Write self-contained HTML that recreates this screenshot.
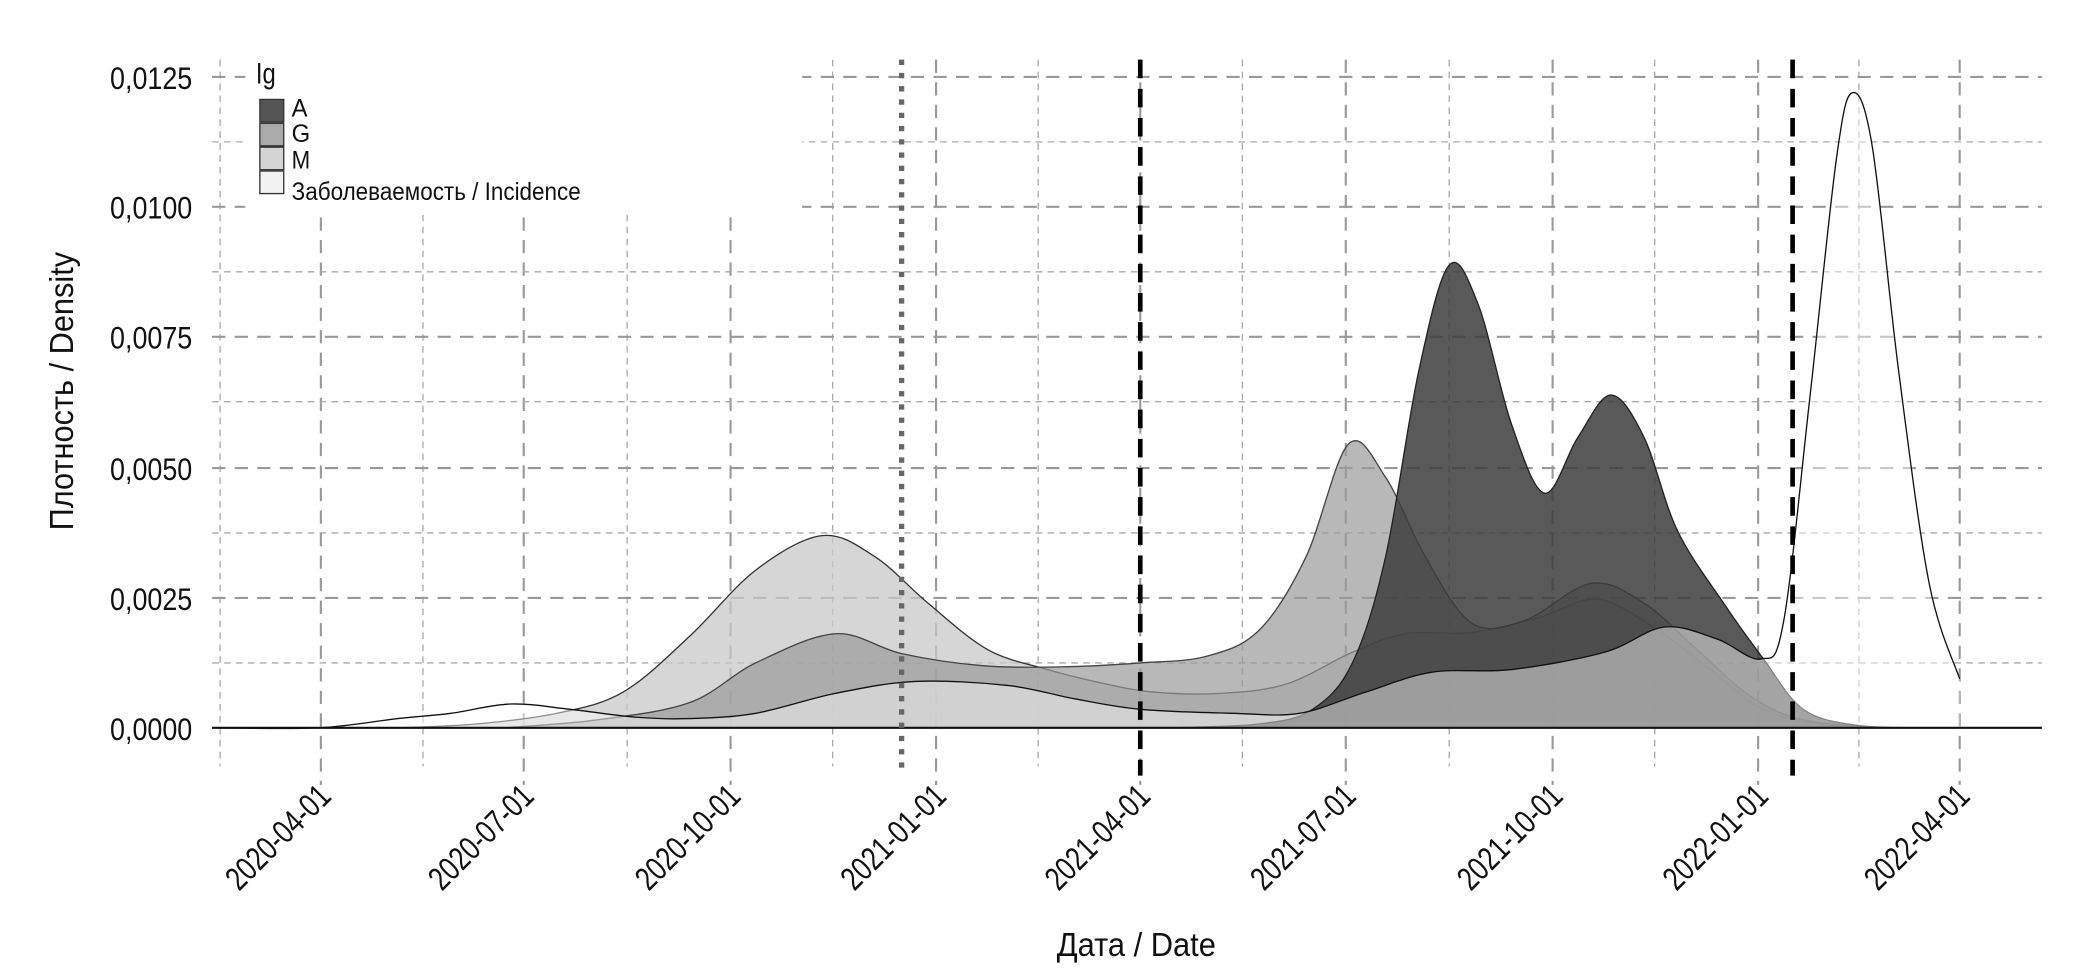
<!DOCTYPE html>
<html><head><meta charset="utf-8"><style>
html,body{margin:0;padding:0;background:#fff;}
svg{display:block;}
text{font-family:"Liberation Sans",sans-serif;fill:#111;}
</style></head><body>
<svg id="s" width="2079" height="975" viewBox="0 0 1568 735.4" preserveAspectRatio="none" xmlns="http://www.w3.org/2000/svg">
<g id="grid"></g>
<rect x="185" y="38" width="420" height="122" fill="#fff"/>
<g id="areas"></g>
<line x1="160" y1="549" x2="1540" y2="549" stroke="#111" stroke-width="1.6"/>
<line x1="680" y1="45" x2="680" y2="585" stroke="#666" stroke-width="4" stroke-dasharray="4,6"/>
<line x1="860" y1="45" x2="860" y2="585" stroke="#000" stroke-width="3.5" stroke-dasharray="14,8"/>
<line x1="1352" y1="45" x2="1352" y2="585" stroke="#000" stroke-width="3.5" stroke-dasharray="14,8"/>
<g font-size="24" text-anchor="end">
<text x="145" y="67" textLength="62" lengthAdjust="spacingAndGlyphs">0,0125</text>
<text x="145" y="165" textLength="62" lengthAdjust="spacingAndGlyphs">0,0100</text>
<text x="145" y="263" textLength="62" lengthAdjust="spacingAndGlyphs">0,0075</text>
<text x="145" y="362" textLength="62" lengthAdjust="spacingAndGlyphs">0,0050</text>
<text x="145" y="460" textLength="62" lengthAdjust="spacingAndGlyphs">0,0025</text>
<text x="145" y="558" textLength="62" lengthAdjust="spacingAndGlyphs">0,0000</text>
</g>
<g id="xl" font-size="25" text-anchor="end"></g>
<text transform="translate(55,295) rotate(-90)" font-size="25" text-anchor="middle" textLength="210" lengthAdjust="spacingAndGlyphs">Плотность / Density</text>
<text x="857" y="721" font-size="25" text-anchor="middle" textLength="120" lengthAdjust="spacingAndGlyphs">Дата / Date</text>
<text x="193" y="63" font-size="22" textLength="15" lengthAdjust="spacingAndGlyphs">Ig</text>
<rect x="196" y="75" width="18" height="17" fill="#555" stroke="#333"/>
<rect x="196" y="93" width="18" height="17" fill="#aaa" stroke="#333"/>
<rect x="196" y="111" width="18" height="17" fill="#d4d4d4" stroke="#333"/>
<rect x="196" y="129" width="18" height="17" fill="#f2f2f2" stroke="#333"/>
<g font-size="19">
<text x="220" y="88" textLength="12" lengthAdjust="spacingAndGlyphs">A</text>
<text x="220" y="107" textLength="14" lengthAdjust="spacingAndGlyphs">G</text>
<text x="220" y="127" textLength="14" lengthAdjust="spacingAndGlyphs">M</text>
<text x="220" y="151" textLength="218" lengthAdjust="spacingAndGlyphs">Заболеваемость / Incidence</text>
</g>
</svg>
<script>
var NS="http://www.w3.org/2000/svg";
function el(p,t,a){var e=document.createElementNS(NS,t);for(var k in a)e.setAttribute(k,a[k]);p.appendChild(e);return e;}
var g=document.getElementById('grid');
var maj=[242,395,551,706,860,1015,1171,1326,1478];
maj.forEach(function(x){el(g,'line',{x1:x,y1:45,x2:x,y2:592,stroke:'#999','stroke-width':1.6,'stroke-dasharray':'10,7'});});
[166,319,473,628,783,937,1093,1248,1402].forEach(function(x){el(g,'line',{x1:x,y1:45,x2:x,y2:578,stroke:'#aaa','stroke-width':1,'stroke-dasharray':'5,4'});});
[58,156,254,353,451].forEach(function(y){el(g,'line',{x1:160,y1:y,x2:1540,y2:y,stroke:'#999','stroke-width':1.6,'stroke-dasharray':'10,7'});});
[107,205,303,402,500].forEach(function(y){el(g,'line',{x1:160,y1:y,x2:1540,y2:y,stroke:'#aaa','stroke-width':1,'stroke-dasharray':'5,4'});});
var lab=['2020-04-01','2020-07-01','2020-10-01','2021-01-01','2021-04-01','2021-07-01','2021-10-01','2022-01-01','2022-04-01'];
var xl=document.getElementById('xl');
maj.forEach(function(x,i){var t=el(xl,'text',{transform:'translate('+(x+9)+',602) rotate(-45)',textLength:100,lengthAdjust:'spacingAndGlyphs'});t.textContent=lab[i];});
function cr(p){var d='M'+p[0][0]+','+p[0][1];for(var i=0;i<p.length-1;i++){var p0=p[i-1]||p[i],p1=p[i],p2=p[i+1],p3=p[i+2]||p2;
d+=' C'+(p1[0]+(p2[0]-p0[0])/6)+','+(p1[1]+(p2[1]-p0[1])/6)+' '+(p2[0]-(p3[0]-p1[0])/6)+','+(p2[1]-(p3[1]-p1[1])/6)+' '+p2[0]+','+p2[1];}return d;}
var a=document.getElementById('areas');
function area(pts,fill,op,stroke){var d=cr(pts);var f=d+' L'+pts[pts.length-1][0]+',549 L'+pts[0][0]+',549 Z';
el(a,'path',{d:f,fill:fill,'fill-opacity':op,stroke:'none'});el(a,'path',{d:d,fill:'none',stroke:stroke,'stroke-width':1});}
var M=[[300,549],[360,546],[420,538],[470,522],[520,480],[570,430],[620,404],[660,420],[700,455],[745,490],[790,505],[830,515],[870,522],[920,523],[970,516],[1020,492],[1060,478],[1110,477],[1160,466],[1205,452],[1250,475],[1290,505],[1330,535],[1380,547],[1440,549]];
var G=[[380,549],[450,543],[520,530],[570,500],[630,478],[680,493],[740,502],[800,503],[860,500],[910,495],[950,475],[985,420],[1017,335],[1045,360],[1075,420],[1110,470],[1150,468],[1200,440],[1240,455],[1280,490],[1320,525],[1360,543],[1420,549]];
var A=[[880,549],[950,546],[990,535],[1020,500],[1045,420],[1070,280],[1093,200],[1115,230],[1140,320],[1165,372],[1190,330],[1215,298],[1240,330],[1265,400],[1300,455],[1330,497],[1360,535],[1400,547],[1450,549]];
var I=[[160,549],[240,549],[300,542],[340,538],[385,531],[430,535],[480,541],[520,542],[570,538],[630,523],[690,514],[760,517],[810,527],[860,535],[930,538],[980,538],[1030,522],[1080,507],[1140,505],[1210,492],[1255,473],[1295,482],[1328,497],[1345,470],[1365,300],[1385,120],[1397,70],[1412,110],[1432,280],[1455,440],[1478,512]];
area(M,'#c8c8c8',0.75,'#333');
area(G,'#9a9a9a',0.7,'#444');
area(A,'#3c3c3c',0.85,'#222');
area(I,'#ffffff',0.45,'#111');
</script>
</body></html>
